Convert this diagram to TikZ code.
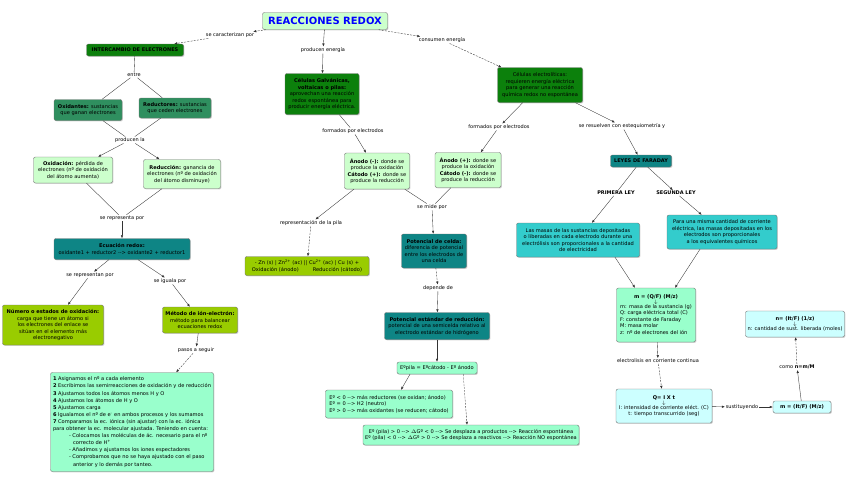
\documentclass[tikz,border=0pt]{standalone}
\usepackage{fontspec}
\setmainfont{DejaVu Sans}
\usepackage{xcolor}
\usetikzlibrary{arrows.meta, positioning, shadows}
\definecolor{cmapdark}{HTML}{0C800C}
\definecolor{cmapmid}{HTML}{2F8F5F}
\definecolor{cmaplight}{HTML}{CCFFCC}
\definecolor{cmapteal}{HTML}{0E8585}
\definecolor{cmapturq}{HTML}{33CCCC}
\definecolor{cmaplime}{HTML}{99CC00}
\definecolor{cmapmint}{HTML}{99FFCC}
\definecolor{cmapcyan}{HTML}{CCFFFF}
\newcommand{\flecha}{-{}->}

\begin{document}
\begin{tikzpicture}[
    x=1pt, y=-1pt,
    concept/.style={draw=black!55, rounded corners=2pt, align=center, inner sep=1pt,
      font=\fontsize{5.1}{6.5}\selectfont,
      drop shadow={shadow xshift=0.9pt, shadow yshift=-0.9pt, fill=black!35}},
    sz/.style 2 args={minimum width=#1pt, minimum height=#2pt},
    darkc/.style={concept, fill=cmapdark},
    midc/.style={concept, fill=cmapmid},
    lightc/.style={concept, fill=cmaplight},
    tealc/.style={concept, fill=cmapteal},
    turqc/.style={concept, fill=cmapturq},
    limec/.style={concept, fill=cmaplime},
    mintc/.style={concept, fill=cmapmint},
    cyanc/.style={concept, fill=cmapcyan},
    link/.style={font=\fontsize{5}{6}\selectfont, inner sep=0.8pt, fill=white},
    line/.style={-{Latex[length=3pt, width=2.4pt]}, draw=black!80, line width=0.35pt},
    bare/.style={draw=black!80, line width=0.35pt},
    dline/.style={line, dash pattern=on 2pt off 1.2pt}
  ]
  \useasboundingbox[fill=white] (0,0) rectangle (848,477);

  % title and first links
  \node[lightc, sz={125}{17}, font=\fontsize{10}{12}\selectfont\bfseries, text=blue] (title) at (325,21) {REACCIONES REDOX};
  \node[link] (l_car) at (230,35) {se caracterizan por};
  \node[link] (l_prod) at (323,50) {producen energía};
  \node[link] (l_cons) at (442,40) {consumen energía};

  % left column: electron exchange
  \node[darkc, sz={97}{12}, font=\fontsize{5}{6}\selectfont\bfseries] (intercambio) at (135,50) {INTERCAMBIO DE ELECTRONES};
  \node[link] (l_entre) at (134,75) {entre};
  \node[midc, sz={68}{21}] (oxidantes) at (88,110) {\textbf{Oxidantes:} sustancias\\que ganan electrones};
  \node[midc, sz={72}{20}] (reductores) at (175,108) {\textbf{Reductores:} sustancias\\que ceden electrones};
  \node[link] (l_producenla) at (130,140) {producen la};
  \node[lightc, sz={79}{26}] (oxidacion) at (73,170) {\textbf{Oxidación:} pérdida de\\electrones (nº de oxidación\\del átomo aumenta)};
  \node[lightc, sz={77}{29}] (reduccion) at (182,174) {\textbf{Reducción:} ganancia de\\electrones (nº de oxidación\\del átomo disminuye)};
  \node[link] (l_repr) at (122,218) {se representa por};
  \node[tealc, sz={136}{21}] (ecuacion) at (122,249) {\textbf{Ecuación redox:}\\oxidante1 + reductor2 \flecha{} oxidante2 + reductor1};
  \node[link] (l_reprn) at (90,275) {se representan por};
  \node[link] (l_iguala) at (170,281) {se iguala por};
  \node[limec, sz={101}{40}] (numero) at (53,325) {\textbf{Número o estados de oxidación:}\\carga que tiene un átomo si\\los electrones del enlace se\\sitúan en el elemento más\\electronegativo};
  \node[limec, sz={75}{26}] (metodo) at (200,320) {\textbf{Método de ión-electrón:}\\método para balancear\\ecuaciones redox};
  \node[link] (l_pasos) at (196,350) {pasos a seguir};
  \node[mintc, sz={163}{99}, align=left, inner sep=1.5pt, font=\fontsize{5.1}{7.1}\selectfont] (pasos) at (132,422) {%
    \textbf{1} Asignamos el nº a cada elemento\\
    \textbf{2} Escribimos las semirreacciones de oxidación y de reducción\\
    \textbf{3} Ajustamos todos los átomos menos H y O\\
    \textbf{4} Ajustamos los átomos de H y O\\
    \textbf{5} Ajustamos carga\\
    \textbf{6} Igualamos el nº de e\textsuperscript{-} en ambos procesos y los sumamos\\
    \textbf{7} Comparamos la ec. iónica (sin ajustar) con la ec. iónica\\
    para obtener la ec. molecular ajustada. Teniendo en cuenta:\\
    \hspace*{16pt}- Colocamos las moléculas de ác. necesario para el nº\\
    \hspace*{20pt}correcto de H\textsuperscript{+}\\
    \hspace*{16pt}- Añadimos y ajustamos los iones espectadores\\
    \hspace*{16pt}- Comprobamos que no se haya ajustado con el paso\\
    \hspace*{20pt}anterior y lo demás por tanteo.};

  % middle column: galvanic cells
  \node[darkc, sz={74}{41}] (galvanicas) at (322,94) {\textbf{Células Galvánicas,}\\\textbf{voltaicas o pilas:}\\aprovechan una reacción\\redox espontánea para\\producir energía eléctrica.};
  \node[link] (l_form1) at (353,131) {formados por electrodos};
  \node[lightc, sz={65}{36}] (anodo1) at (377,171) {\textbf{Ánodo (-):} donde se\\produce la oxidación\\\textbf{Cátodo (+):} donde se\\produce la reducción};
  \node[link] (l_pila) at (311,223) {representación de la pila};
  \node[limec, sz={124}{19}] (pila) at (307,266) {- Zn (s) | Zn\textsuperscript{2+} (ac) || Cu\textsuperscript{2+} (ac) | Cu (s) +\\Oxidación (ánodo)\hspace{14pt}Reducción (cátodo)};
  \node[link] (l_mide) at (432,207) {se mide por};
  \node[tealc, sz={65}{34}] (celda) at (434,251) {\textbf{Potencial de celda:}\\diferencia de potencial\\entre los electrodos de\\una celda};
  \node[link] (l_depende) at (438,288) {depende de};
  \node[tealc, sz={105}{27}] (estandar) at (437,326) {\textbf{Potencial estándar de reducción:}\\potencial de una semicelda relativo al\\electrodo estándar de hidrógeno};
  \node[mintc, sz={80}{12}] (epila) at (437,368) {Eºpila = Eºcátodo - Eº ánodo};
  \node[mintc, sz={127}{28}, align=left] (ebox) at (389,404) {Eº < 0 \flecha{} más reductores (se oxidan; ánodo)\\Eº = 0 \flecha{} H2 (neutro)\\Eº > 0 \flecha{} más oxidantes (se reducen; cátodo)};
  \node[mintc, sz={216}{20}] (ebottom) at (471,435) {Eº (pila) > 0 \flecha{} $\Delta$Gº < 0 \flecha{} Se desplaza a productos \flecha{} Reacción espontánea\\Eº (pila) < 0 \flecha{} $\Delta$Gº > 0 \flecha{} Se desplaza a reactivos \flecha{} Reacción NO espontánea};

  % right column: electrolytic cells
  \node[darkc, sz={85}{35}] (electroliticas) at (540,85) {Células electrolíticas:\\requieren energía eléctrica\\para generar una reacción\\química redox no espontánea};
  \node[link] (l_form2) at (499,127) {formados por electrodos};
  \node[lightc, sz={66}{35}] (anodo2) at (468,170) {\textbf{Ánodo (+):} donde se\\produce la oxidación\\\textbf{Cátodo (-):} donde se\\produce la reducción};
  \node[link] (l_resuelven) at (622,126) {se resuelven con estequiometría y};
  \node[tealc, sz={61}{12}, font=\fontsize{5}{6}\selectfont\bfseries] (faraday) at (641,161) {LEYES DE FARADAY};
  \node[link, font=\fontsize{5}{6}\selectfont\bfseries] (l_primera) at (616,193) {PRIMERA LEY};
  \node[link, font=\fontsize{5}{6}\selectfont\bfseries] (l_segunda) at (676,193) {SEGUNDA LEY};
  \node[turqc, sz={123}{34}] (primera) at (578,240) {Las masas de las sustancias depositadas\\o liberadas en cada electrodo durante una\\electrólisis son proporcionales a la cantidad\\de electricidad};
  \node[turqc, sz={110}{34}] (segunda) at (722,232) {Para una misma cantidad de corriente\\eléctrica, las masas depositadas en los\\electrodos son proporcionales\\a los equivalentes químicos};
  \node[mintc, sz={79}{54}] (mbox) at (656,315) {\begin{tabular}{@{}l@{}}
    \multicolumn{1}{@{}c@{}}{\textbf{m = (Q/F) (M/z)}}\\[-1.5pt]
    \multicolumn{1}{@{}c@{}}{\fontsize{4}{4}\selectfont$\downarrow$}\\[-1.5pt]
    m: masa de la sustancia (g)\\
    Q: carga eléctrica total (C)\\
    F: constante de Faraday\\
    M: masa molar\\
    z: nº de electrones del ión
  \end{tabular}};
  \node[link] (l_electrolisis) at (658,361) {electrolisis en corriente continua};
  \node[cyanc, sz={96}{34}] (qbox) at (664,406) {\textbf{Q= I X t}\\[-1.5pt]{\fontsize{4}{4}\selectfont$\downarrow$}\\[-1.5pt]I: intensidad de corriente eléct. (C)\\t: tiempo transcurrido (seg)};
  \node[link] (l_sust) at (742,407) {sustituyendo};
  \node[cyanc, sz={58}{12}] (mit) at (802,407) {\textbf{m = (It/F) (M/z)}};
  \node[link] (l_como) at (797,367) {como \textbf{n=m/M}};
  \node[cyanc, sz={99}{26}] (nbox) at (795,324) {\textbf{n= (It/F) (1/z)}\\[-1.5pt]{\fontsize{4}{4}\selectfont$\downarrow$}\\[-1.5pt]n: cantidad de sust. liberada (moles)};

  % connectors
  \draw[dline] (title) -- (l_car);
  \draw[dline] (l_car) -- (intercambio);
  \draw[line] (title) -- (l_prod);
  \draw[line] (l_prod) -- (galvanicas);
  \draw[dline] (title) -- (l_cons);
  \draw[dline] (l_cons) -- (electroliticas);
  \draw[bare] (intercambio) -- (l_entre);
  \draw[bare] (l_entre) -- (oxidantes);
  \draw[bare] (l_entre) -- (reductores);
  \draw[bare] (oxidantes) -- (l_producenla);
  \draw[bare] (reductores) -- (l_producenla);
  \draw[line] (l_producenla) -- (oxidacion);
  \draw[line] (l_producenla) -- (reduccion);
  \draw[bare] (oxidacion) -- (l_repr);
  \draw[bare] (reduccion) -- (l_repr);
  \draw[line] (l_repr) -- (ecuacion);
  \draw[line] (ecuacion) -- (l_reprn);
  \draw[line] (l_reprn) -- (numero);
  \draw[line] (ecuacion) -- (l_iguala);
  \draw[line] (l_iguala) -- (metodo);
  \draw[line] (metodo) -- (l_pasos);
  \draw[dline] (l_pasos) -- (pasos);
  \draw[bare] (galvanicas) -- (l_form1);
  \draw[line] (l_form1) -- (anodo1);
  \draw[line] (anodo1) -- (l_pila);
  \draw[dline] (l_pila) -- (pila);
  \draw[bare] (anodo1) -- (l_mide);
  \draw[bare] (anodo2) -- (l_mide);
  \draw[line] (l_mide) -- (celda);
  \draw[dline] (celda) -- (l_depende);
  \draw[line] (l_depende) -- (estandar);
  \draw[line] (estandar) -- (epila);
  \draw[line] ([xshift=-27pt]epila.south) -- ([xshift=12pt]ebox.north);
  \draw[dline] ([xshift=-14pt]epila.south east) -- ([xshift=-4pt]ebottom.north);
  \draw[line] (electroliticas) -- (l_form2);
  \draw[line] (l_form2) -- (anodo2);
  \draw[line] (electroliticas) -- (l_resuelven);
  \draw[line] (l_resuelven) -- (faraday);
  \draw[bare] (faraday) -- (l_primera);
  \draw[line] (l_primera) -- (primera);
  \draw[line] (faraday) -- (l_segunda);
  \draw[line] (l_segunda) -- (segunda);
  \draw[line] ([xshift=37pt]primera.south) -- ([xshift=-21pt]mbox.north);
  \draw[line] ([xshift=-22pt]segunda.south) -- ([xshift=19pt]mbox.north);
  \draw[line] (mbox) -- (l_electrolisis);
  \draw[dline] (l_electrolisis) -- (qbox);
  \draw[line] (qbox) -- (l_sust);
  \draw[line] (l_sust) -- (mit);
  \draw[line] (mit) -- (l_como);
  \draw[dline] (l_como) -- (nbox);
\end{tikzpicture}
\end{document}
